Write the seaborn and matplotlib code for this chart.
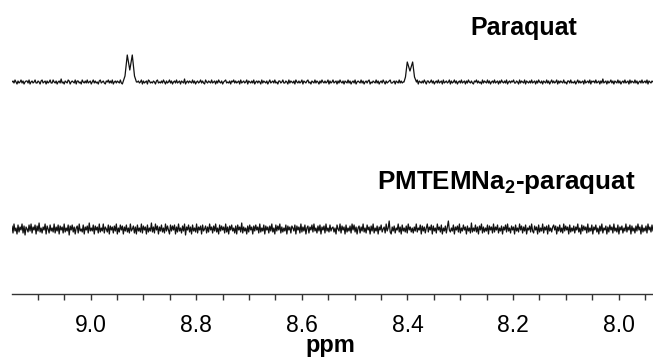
import numpy as np
import pandas as pd
import matplotlib
matplotlib.use("Agg")
import matplotlib.pyplot as plt
from matplotlib.ticker import MultipleLocator, FormatStrFormatter
import seaborn as sns

# ---------------- data ----------------
ppm_left, ppm_right = 9.149, 7.935          # visible chemical-shift range
upper_baseline = 212                          # Paraquat trace offset
lower_baseline = 65                           # PMTEMNa2-paraquat trace offset

# Paraquat doublets (ppm, intensity above baseline)
peak1_ppm = [8.9388, 8.9350, 8.9307, 8.9259, 8.9212, 8.9170, 8.9133]
peak1_int = [0, 6, 27, 12, 27, 6, 0]
peak2_ppm = [8.4066, 8.4038, 8.4004, 8.3953, 8.3902, 8.3867, 8.3830]
peak2_int = [0, 5, 20, 11, 20, 5, 0]

# baseline noise (estimated), Paraquat spectrum
upper_noise = [
    0,1,-1,2,0,-2,1,-1,0,2,-1,1,-2,0,1,1,-1,2,-2,0,
    1,-1,0,2,-1,-1,1,0,-2,1,2,-1,0,1,-2,1,-1,0,2,-1,
    -1,2,0,-1,1,-2,0,1,-1,3,-1,0,-2,1,0,-1,2,1,-2,0,
    1,0,-1,2,-2,1,1,-1,0,-2,2,0,-1,1,-1,2,-1,0,1,-2,
    0,2,-1,1,-1,0,-2,1,2,-1,0,1,-1,-2,1,0,2,-1,1,-1,
    2,-2,0,1,-1,1,0,-1,2,-1,-2,1,0,1,-1,2,0,-2,1,-1,
    0,1,-2,2,-1,0,1,-1,0,2,-2,1,-1,0,1,-2,2,1,-1,0,
    -1,1,0,-2,1,2,-1,0,-1,1,-1,2,0,-2,1,-1,0,2,-1,1,
    -2,0,1,-1,2,-1,0,1,-2,1,0,-1,3,-2,0,1,-1,1,0,-1,
    2,-1,1,-2,0,1,-1,0,2,-1,1,-1,-2,2,0,-1,1,0,-1,2,
    -1,0,1,-2,1,-1,2,0,-1,1,-2,0,1,2,-1,0,-1,1,-2,1,
    0,2,-1,1,-1,0,1,-2,2,-1,0,1,-1,0,2,-2,1,0,-1,1,
    -1,2,-2,0,1,-1,1,0,-2,2,-1,1,0,-1,1,-2,0,2,-1,0,
    1,-1,2,-1,0,-2,1,1,-1,0,2,-1,-1,1,0,-2,2,-1,1,0,
    -1,1,-2,2,0,-1,1,-1,0,2,-2,1,0,-1,1,2,-1,0,-2,1,
    0,-1,2,-1,1,0,-2,1,-1,2,0,-1,1,-1,0,2,-2,1,-1,0,
    2,-1,0,1,-2,1,-1,2,0,-1,1,-2,1,0,-1,2,-1,1,-2,0,
    1,-1,2,-2,0,1,0,-1,2,-1,1,-2,0,1,-1,1,2,-2,0,-1,
    1,0,-1,2,-1,1,-2,0,1,-1,2,0,-2,1,-1,0,1,2,-1,-1,
    0,1,-2,1,0,-1,2,-1,1,-1,0,2,-2,0,1,-1,1,-2,2,0,
    -1,1,0,-1,2,-2,1,0,-1,1,-1,2,0,-2,1,1,-1,0,2,-1,
    1,-2,0,1,-1,2,-1,0,1,-2,2,-1,0,1,-1,0,2,-2,1,-1,
    0,2,-1,1,-2,0,1,-1,2,-1,0,1,-2,1,-1,2,0,-1,1,-1,
    -2,1,0,2,-1,1,-1,0,-2,2,-1,1,0,-1,2,-1,1,-2,0,1,
    -1,2,-1,0,1,-2,1,-1,2,0,-1,1,-1,2,-2,0,1,-1,1,0,
    2,-1,-1,1,0,-2,2,-1,1,0,-1,2,-2,1,0,-1,1,-1,2,-1,
    0,1,-2,1,-1,2,0,-1,1,-2,1,0,-1,2,-1,1,-2,0,2,-1,
    1,-1,0,2,-2,1,-1,1,0,-1,2,-1,0,-2,1,1,-1,2,-1,0,
    -1,1,-2,0,2,-1,1,-1,0,1,-2,2,-1,0,1,-1,2,-2,1,0,
    1,-1,2,-1,0,1,-2,1,-1,3,-1,0,1,-2,1,-1,0,2,-1,1,
    -2,1,0,-1,2,-1,1,-2,0,1,-1,2,-1,0,1,-2,2,-1,1,0,
    -1,2,-1,1,-2,0,1,-1,2,-1,0,1,-1,2,-2,1,0,-1,1,0,
]

# baseline noise (estimated), PMTEMNa2-paraquat spectrum
lower_noise = [
    3,-4,5,-2,1,-5,4,-3,2,-1,5,-4,3,-6,2,0,-3,4,-2,5,
    -4,2,-1,4,-5,3,-2,6,-3,1,-4,2,-1,5,-5,3,0,-4,4,-2,
    1,-3,5,-4,2,-2,4,-5,3,-1,2,-4,5,-3,1,-2,4,-6,3,-1,
    4,-3,2,-5,1,3,-4,5,-2,0,-3,4,-5,2,-1,3,-4,6,-2,1,
    -2,4,-5,3,-1,2,-4,5,-3,1,-2,5,-4,2,0,-3,4,-5,3,-1,
    2,-4,3,-2,5,-5,1,-3,4,-1,3,-5,2,-2,4,-3,1,-4,5,-2,
    0,3,-4,2,-5,4,-2,1,-3,5,-4,3,-1,2,-5,4,-3,1,-2,6,
    -3,2,-4,5,-1,3,-5,2,-2,4,-3,1,-4,5,-2,3,-1,-5,4,-2,
    3,-1,4,-5,2,-3,5,-2,1,-4,3,-2,5,-6,2,-1,4,-3,2,-5,
    4,-2,1,-3,5,-4,2,-1,3,-5,4,-2,0,3,-4,2,-3,5,-1,2,
    -4,3,-2,5,-3,1,-5,4,-2,3,-1,2,-4,5,-3,2,-5,3,-1,4,
    -2,1,-4,3,-5,4,-1,2,-3,6,-4,2,-2,1,-5,3,-3,4,-1,2,
    -5,3,-2,4,-1,2,-4,5,-3,1,-2,4,-5,3,-1,2,-4,3,-2,5,
    -3,1,-5,4,-2,3,-1,5,-4,2,-3,1,-2,4,-5,3,-1,2,-4,3,
    1,-2,4,-5,3,-1,2,-4,5,-3,2,-2,4,-5,1,3,-4,2,-1,4,
    -3,5,-2,1,-4,3,-2,4,-5,2,-1,3,-4,5,-2,1,-3,4,-2,1,
    2,-3,1,-5,4,0,-2,5,-4,3,-1,2,-5,4,-3,1,-2,3,-4,5,
    -1,4,-3,2,-5,1,3,-4,2,-2,5,-3,1,-4,4,-1,2,-5,3,-2,
    5,-4,1,-2,3,-5,2,-1,4,-3,0,2,-4,5,-2,1,8,-3,-5,2,
    -2,3,-4,1,-1,5,-3,2,-5,4,-2,1,-3,3,-4,5,-1,2,-3,1,
    -4,2,-2,5,-3,1,-1,4,-5,3,-2,2,-4,1,5,-3,2,-1,4,-5,
    3,-2,1,-4,5,-1,2,-3,4,-5,1,-2,3,-4,2,8,-1,-3,1,-2,
    4,-5,2,-1,3,-3,5,-4,1,-2,4,-1,2,-5,3,-2,1,-4,6,-3,
    1,-2,4,-3,2,-5,3,-1,5,-4,2,-3,1,-2,4,-5,3,-1,2,-4,
    5,-3,2,-1,4,-4,1,-2,3,-5,2,-1,4,-3,5,-2,1,-4,3,-1,
    2,-5,4,-2,1,-3,5,-1,3,-4,2,-2,4,-5,1,-1,3,-3,5,-2,
    -4,3,-1,2,-5,4,-3,1,-2,5,-4,2,-1,3,-5,4,-2,1,-3,2,
    4,-1,3,-5,2,-2,4,-3,1,-4,5,-2,3,-1,2,-5,4,-3,1,-2,
    3,-4,2,-1,5,-3,1,-5,4,-2,3,-1,2,-4,5,-3,1,-2,4,-5,
    2,-1,4,-3,1,-5,3,-2,5,-4,1,-1,3,-5,2,-3,4,-1,2,-4,
    5,-2,1,-3,4,-5,2,-1,3,-4,1,-2,5,-3,2,-1,4,-5,3,-2,
    1,-4,3,-2,5,-1,2,-5,4,-3,1,-2,3,-4,5,-1,2,-3,4,-2,
]

labels = ["Paraquat", r"PMTEMNa$_{\mathbf{2}}$-paraquat"]
major_ticks = [9.0, 8.8, 8.6, 8.4, 8.2, 8.0]

# ---------------- build tables ----------------
grid = np.linspace(ppm_left, ppm_right, len(upper_noise))

def windows_mask(x, wins):
    keep = np.ones_like(x, dtype=bool)
    for lo, hi in wins:
        keep &= ~((x >= lo) & (x <= hi))
    return keep

wins = [(min(peak1_ppm), max(peak1_ppm)), (min(peak2_ppm), max(peak2_ppm))]
keep = windows_mask(grid, wins)
up_x = np.concatenate([grid[keep], peak1_ppm, peak2_ppm])
up_y = np.concatenate([np.array(upper_noise)[keep], peak1_int, peak2_int]) + upper_baseline
upper = pd.DataFrame({"ppm": up_x, "intensity": up_y, "trace": "Paraquat"})

grid2 = np.linspace(ppm_left, ppm_right, len(lower_noise))
lower = pd.DataFrame({"ppm": grid2,
                      "intensity": np.array(lower_noise) + lower_baseline,
                      "trace": "PMTEMNa2-paraquat"})

# ---------------- plot ----------------
sns.set_style("white")
plt.rcParams["font.family"] = ["Liberation Sans", "DejaVu Sans"]
plt.rcParams["mathtext.fontset"] = "custom"
plt.rcParams["mathtext.bf"] = "Liberation Sans:bold"
plt.rcParams["mathtext.rm"] = "Liberation Sans"

W, H = 653, 359
fig = plt.figure(figsize=(W / 100, H / 100), dpi=100)
ax = fig.add_axes([12 / W, 1 - 294 / H, 1 - 12 / W, 294 / H])

for df in (upper, lower):
    sns.lineplot(data=df, x="ppm", y="intensity", ax=ax, estimator=None,
                 sort=True, color="#111111", linewidth=0.9, legend=False)

ax.set_xlim(ppm_left, ppm_right)
ax.set_ylim(0, 294)
for s in ("left", "right", "top"):
    ax.spines[s].set_visible(False)
ax.spines["bottom"].set_color("#333333")
ax.spines["bottom"].set_linewidth(1.0)
ax.set_yticks([])
ax.set_ylabel("")

ax.set_xticks(major_ticks)
ax.xaxis.set_major_formatter(FormatStrFormatter("%.1f"))
ax.xaxis.set_minor_locator(MultipleLocator(0.05))
ax.tick_params(axis="x", which="both", direction="out", length=4.5, width=1,
               color="#333333", bottom=True)
ax.tick_params(axis="x", which="major", labelsize=16.5, pad=10, labelcolor="#000000")
ax.set_xlabel("ppm", fontsize=17, fontweight="bold", color="#000000",
              va="baseline")
ax.xaxis.set_label_coords((330 - 12) / 641, (294 - 352) / 294)

fig.text(470 / W, 1 - 35 / H, labels[0], fontsize=18, fontweight="bold",
         ha="left", va="baseline", color="#000000")
fig.text(377 / W, 1 - 189 / H, labels[1], fontsize=18.7, fontweight="bold",
         ha="left", va="baseline", color="#000000")

fig.savefig("out.png", dpi=100, facecolor="white")
